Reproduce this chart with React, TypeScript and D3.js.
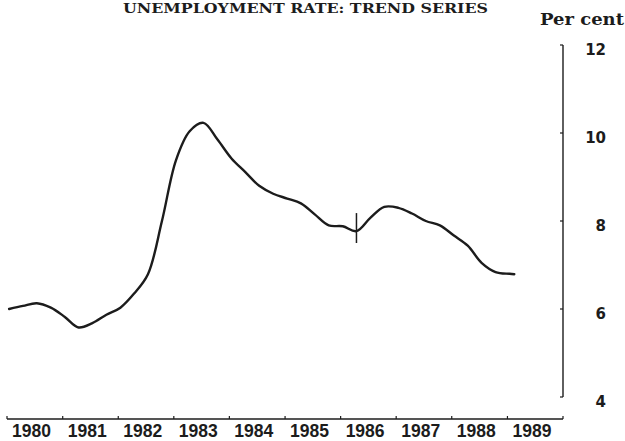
import React from "react";
import * as d3 from "d3";

const title = "UNEMPLOYMENT RATE: TREND SERIES";
const unitLabel = "Per cent";
const yearLabels = ["1980", "1981", "1982", "1983", "1984", "1985", "1986", "1987", "1988", "1989"];
const yearTicks = [1980, 1981, 1982, 1983, 1984, 1985, 1986, 1987, 1988, 1989, 1990];
const yTicks = [4, 6, 8, 10, 12];

const months = [
  "1980-01", "1980-04", "1980-07", "1980-10",
  "1981-01", "1981-04", "1981-07", "1981-10",
  "1982-01", "1982-04", "1982-07", "1982-10",
  "1983-01", "1983-04", "1983-07", "1983-10",
  "1984-01", "1984-04", "1984-07", "1984-10",
  "1985-01", "1985-04", "1985-07", "1985-10",
  "1986-01", "1986-04", "1986-07", "1986-10",
  "1987-01", "1987-04", "1987-07", "1987-10",
  "1988-01", "1988-04", "1988-07", "1988-10",
  "1989-01", "1989-02",
];
const rate = [
  6.0, 6.07, 6.13, 6.03,
  5.82, 5.58, 5.68, 5.87,
  6.03, 6.35, 6.79, 8.0,
  9.38, 10.04, 10.23, 9.85,
  9.42, 9.11, 8.8, 8.62,
  8.51, 8.4, 8.15, 7.9,
  7.88, 7.77, 8.07, 8.32,
  8.3, 8.17, 8.0, 7.9,
  7.67, 7.44, 7.05, 6.84,
  6.8, 6.79,
];
// break-in-series marker
const breakMonth = "1986-04";
const breakRange = [7.5, 8.18];

const W = 625;
const H = 441;

function parseMonth(s: string) {
  const [y, m] = s.split("-").map(Number);
  return new Date(y, m - 1, 15);
}

export default function App() {
  React.useEffect(() => {
    document.body.style.margin = "0";
  }, []);

  const x = d3
    .scaleTime()
    .domain([new Date(1980, 0, 1), new Date(1990, 0, 1)])
    .range([7, 563]);
  const y = d3.scaleLinear().domain([4, 12]).range([397, 45]);
  const axisY = 419;
  const axisX = 563;

  const data = months.map((m, i) => ({ d: parseMonth(m), v: rate[i] }));
  const line = d3
    .line<{ d: Date; v: number }>()
    .x((p) => x(p.d))
    .y((p) => y(p.v))
    .curve(d3.curveCatmullRom.alpha(0.5));

  const bx = x(parseMonth(breakMonth));
  const ink = "#1c1c1c";

  return (
    <svg width={W} height={H} style={{ display: "block", background: "#fff" }}>
      <text
        x={123}
        y={13}
        textLength={365}
        lengthAdjust="spacingAndGlyphs"
        fontFamily="'DejaVu Serif', serif"
        fontWeight="bold"
        fontSize={13}
        fill={ink}
      >
        {title}
      </text>
      <text
        x={540}
        y={25}
        textLength={84}
        lengthAdjust="spacingAndGlyphs"
        fontFamily="'DejaVu Serif', serif"
        fontWeight="bold"
        fontSize={16}
        fill={ink}
      >
        {unitLabel}
      </text>

      {/* right axis */}
      <line x1={axisX} x2={axisX} y1={y(12)} y2={y(4)} stroke={ink} strokeWidth={1.4} />
      {yTicks.map((t) => (
        <g key={t}>
          <line x1={axisX - 3} x2={axisX} y1={y(t)} y2={y(t)} stroke={ink} strokeWidth={1.2} />
          <text
            x={606}
            y={y(t) + 10}
            textAnchor="end"
            fontFamily="'DejaVu Sans', sans-serif"
            fontWeight="bold"
            fontSize={15}
            fill={ink}
          >
            {String(t)}
          </text>
        </g>
      ))}

      {/* bottom axis */}
      <line x1={x(new Date(1980, 0, 1))} x2={x(new Date(1990, 0, 1))} y1={axisY} y2={axisY} stroke={ink} strokeWidth={1.3} />
      {yearTicks.map((yr) => (
        <line
          key={yr}
          x1={x(new Date(yr, 0, 1))}
          x2={x(new Date(yr, 0, 1))}
          y1={axisY}
          y2={axisY - 3}
          stroke={ink}
          strokeWidth={1.2}
        />
      ))}
      {yearLabels.map((lab) => (
        <text
          key={lab}
          x={x(new Date(Number(lab), 0, 1)) + 5}
          y={436.5}
          textLength={39}
          lengthAdjust="spacingAndGlyphs"
          fontFamily="'Liberation Sans', Arial, sans-serif"
          fontWeight="bold"
          fontSize={18}
          fill={ink}
        >
          {lab}
        </text>
      ))}

      {/* series */}
      <path d={line(data) || ""} fill="none" stroke={ink} strokeWidth={2.4} strokeLinejoin="round" strokeLinecap="round" />
      <line x1={bx} x2={bx} y1={y(breakRange[1])} y2={y(breakRange[0])} stroke={ink} strokeWidth={1.5} />
    </svg>
  );
}
